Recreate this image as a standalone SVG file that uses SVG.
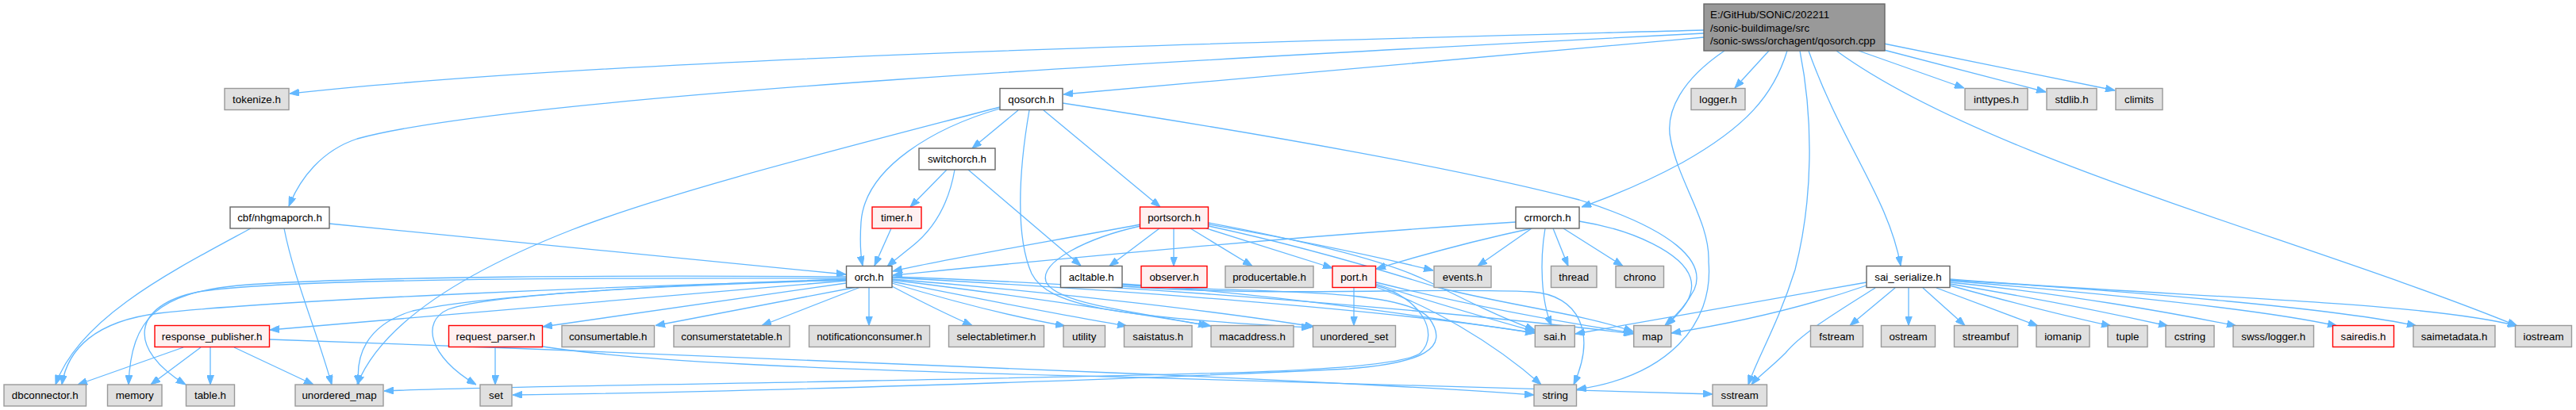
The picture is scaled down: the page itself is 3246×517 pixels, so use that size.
<svg xmlns="http://www.w3.org/2000/svg" width="3246" height="517" viewBox="0 0 3246 517">
<defs>
<style>
.e path{fill:none;stroke:#63b8ff;stroke-width:1.3;marker-end:url(#a)}
.n rect{stroke-width:1.4}
.w rect{fill:#ffffff;stroke:#666666}
.g rect{fill:#e0e0e0;stroke:#999999}
.r rect{fill:#fff0f0;stroke:#ff0000}
.rt rect{fill:#999999;stroke:#666666}
text{font-family:"Liberation Sans",Arial,Helvetica,sans-serif;font-size:13.33px;fill:#000000;text-anchor:middle}
.rt text{text-anchor:start}
</style>
<marker id="a" viewBox="0 0 12 9" refX="12" refY="4.5" markerWidth="12" markerHeight="9" markerUnits="userSpaceOnUse" orient="auto"><path d="M0,0L12,4.5L0,9z" fill="#63b8ff" stroke="#63b8ff" stroke-width="1"/></marker>
</defs>
<rect width="3246" height="517" fill="#ffffff"/>
<g id="edges" class="e">
<path d="M2147,38 C1700,50 800,70 365,118"/>
<path d="M2147,42 C1500,75 650,120 450,175 C405,190 378,225 364,260"/>
<path d="M2147,47 C1850,75 1550,100 1340,119"/>
<path d="M2229,64 L2186,111"/>
<path d="M2342,64 L2475,111"/>
<path d="M2374,63 L2578,116"/>
<path d="M2374,55 L2665,114"/>
<path d="M2252,64 C2235,120 2200,160 2120,205 C2070,232 2030,248 1993,261"/>
<path d="M2279,64 C2320,180 2380,250 2395,335"/>
<path d="M2173,64 C2120,100 2098,140 2105,175 C2115,230 2155,280 2153,330 C2160,410 2100,475 1987,491"/>
<path d="M2268,64 C2285,150 2285,250 2262,340 C2240,410 2215,450 2203,485"/>
<path d="M2314,64 C2500,200 2900,300 3172,411"/>
<path d="M1283,139 L1225,187"/>
<path d="M1260,137 C1180,160 1090,210 1085,280 C1083,310 1085,325 1087,335"/>
<path d="M1260,135 C1050,190 850,240 720,290 C580,345 480,410 450,485"/>
<path d="M1315,139 L1462,261"/>
<path d="M1339,130 C1600,170 1850,215 1990,252 C2110,290 2150,330 2135,365 C2125,385 2110,400 2098,410"/>
<path d="M1297,139 C1283,220 1280,300 1300,345 C1320,385 1400,400 1652,413"/>
<path d="M1193,214 L1147,261"/>
<path d="M1203,214 C1195,260 1175,290 1150,310 C1135,322 1125,330 1118,336"/>
<path d="M1220,214 L1362,335"/>
<path d="M1123,288 L1102,335"/>
<path d="M415,282 C600,300 900,330 1066,346"/>
<path d="M316,288 C220,340 100,400 70,485"/>
<path d="M358,288 C370,350 400,420 418,485"/>
<path d="M1437,283 C1320,305 1200,325 1125,342"/>
<path d="M1461,288 L1398,335.5"/>
<path d="M1479,288 L1479,335.5"/>
<path d="M1500,288 L1578,335.5"/>
<path d="M1520,288 L1679,338"/>
<path d="M1523,283 C1620,300 1720,320 1806,341"/>
<path d="M1437,285 C1370,300 1310,330 1318,355 C1330,385 1450,395 1522,411"/>
<path d="M1523,281 C1650,305 1750,330 1800,355 C1850,380 1890,400 1934,416"/>
<path d="M1523,285 C1640,310 1740,340 1810,362 C1900,385 1990,395 2058,418"/>
<path d="M1706,362.5 L1706,410.5"/>
<path d="M1734,358 C1800,380 1870,400 1934,418"/>
<path d="M1734,356 C1850,385 1960,405 2058,420"/>
<path d="M1734,362 C1800,385 1880,430 1942,485"/>
<path d="M1734,360 C1790,375 1815,420 1790,445 C1760,470 1500,472 1100,480 C800,486 600,488 484,493"/>
<path d="M1414,359 C1550,370 1760,360 1800,400 C1830,440 1790,458 1700,465 C1400,480 900,495 646,498"/>
<path d="M1414,361 C1600,375 1800,362 1930,368 C1990,372 2012,420 1983,485"/>
<path d="M1414,358 C1600,370 1800,400 1934,420"/>
<path d="M1910,280 C1600,300 1300,330 1125,347"/>
<path d="M1930,288 C1850,305 1780,325 1734,339"/>
<path d="M1930,288 L1862,335.5"/>
<path d="M1947,288 C1940,330 1942,380 1955,410.5"/>
<path d="M1957,288 L1976,335.5"/>
<path d="M1970,288 L2045,335.5"/>
<path d="M1990,279 C2060,290 2120,320 2130,350 C2138,375 2115,395 2100,410.5"/>
<path d="M2352,356 C2250,375 2100,400 1985,421"/>
<path d="M2352,360 C2280,385 2200,405 2106,420"/>
<path d="M2363,363 C2320,390 2270,420 2250,445 C2230,465 2215,475 2207,485"/>
<path d="M2388,363 L2331,410.5"/>
<path d="M2405,363 L2405,410.5"/>
<path d="M2423,363 L2476,410.5"/>
<path d="M2440,363 L2568,411"/>
<path d="M2457,360 C2530,380 2600,398 2660,411"/>
<path d="M2457,358 C2560,375 2660,395 2732,411"/>
<path d="M2457,356 C2600,370 2740,395 2818,411"/>
<path d="M2457,354 C2650,370 2850,390 2945,411"/>
<path d="M2457,353 C2700,368 2950,390 3045,411"/>
<path d="M2457,352 C2750,375 3050,380 3172,411"/>
<path d="M1066,349 C800,347 450,348 300,360 C200,370 165,400 162,485"/>
<path d="M1066,351 C700,350 350,352 250,368 C165,385 160,440 234,485"/>
<path d="M1066,353 C800,360 350,378 200,395 C120,405 85,440 78,485"/>
<path d="M1066,354 L340,416"/>
<path d="M1066,352 C800,360 600,375 520,392 C460,410 448,450 452,485"/>
<path d="M1066,353 C850,360 620,370 565,390 C530,405 540,450 600,485"/>
<path d="M1066,357 L684,412"/>
<path d="M1077,362.5 L826,410.5"/>
<path d="M1083,362.5 L960,410.5"/>
<path d="M1095,362.5 L1095,410.5"/>
<path d="M1124,361 C1160,380 1190,395 1225,410.5"/>
<path d="M1124,357 C1200,380 1280,400 1342,411"/>
<path d="M1124,355 C1250,380 1350,400 1420,411"/>
<path d="M1124,353 C1300,375 1430,395 1526,411"/>
<path d="M1124,352 C1350,370 1550,395 1656,412"/>
<path d="M1124,350 C1400,365 1750,390 1934,420"/>
<path d="M1124,349 C1450,360 1850,395 2058,421"/>
<path d="M231,438 L98,485"/>
<path d="M253,438 L190,485"/>
<path d="M265,438 L265,485"/>
<path d="M295,438 L395,485"/>
<path d="M340,428 C700,440 1100,458 1400,470 C1650,480 1850,492 1933,498"/>
<path d="M624,438 L624,485"/>
<path d="M684,437 C800,455 1000,465 1400,475 C1800,485 2050,492 2158,497"/>
</g>
<g id="nodes">
<g id="n_root" class="n rt"><rect x="2147" y="5" width="228" height="59"/><text x="2155" y="23">E:/GitHub/SONiC/202211</text><text x="2155" y="39.5">/sonic-buildimage/src</text><text x="2155" y="56">/sonic-swss/orchagent/qosorch.cpp</text></g>
<g id="n_tokenize" class="n g"><rect x="283" y="111.5" width="81" height="27"/><text x="323.5" y="129.7">tokenize.h</text></g>
<g id="n_qosorch" class="n w"><rect x="1260" y="111.5" width="79" height="27"/><text x="1299.5" y="129.7">qosorch.h</text></g>
<g id="n_logger" class="n g"><rect x="2131" y="111.5" width="68" height="27"/><text x="2165" y="129.7">logger.h</text></g>
<g id="n_inttypes" class="n g"><rect x="2476" y="111.5" width="79" height="27"/><text x="2515.5" y="129.7">inttypes.h</text></g>
<g id="n_stdlib" class="n g"><rect x="2579" y="111.5" width="63" height="27"/><text x="2610.5" y="129.7">stdlib.h</text></g>
<g id="n_climits" class="n g"><rect x="2666" y="111.5" width="59" height="27"/><text x="2695.5" y="129.7">climits</text></g>
<g id="n_switchorch" class="n w"><rect x="1158" y="187" width="96" height="27"/><text x="1206" y="205.2">switchorch.h</text></g>
<g id="n_cbf" class="n w"><rect x="290" y="261" width="125" height="27"/><text x="352.5" y="279.2">cbf/nhgmaporch.h</text></g>
<g id="n_timer" class="n r"><rect x="1099" y="261" width="62" height="27"/><text x="1130" y="279.2">timer.h</text></g>
<g id="n_portsorch" class="n r"><rect x="1436.5" y="261" width="86" height="27"/><text x="1479.5" y="279.2">portsorch.h</text></g>
<g id="n_crmorch" class="n w"><rect x="1910" y="261" width="80" height="27"/><text x="1950" y="279.2">crmorch.h</text></g>
<g id="n_orch" class="n w"><rect x="1066.5" y="335.5" width="57.5" height="27"/><text x="1095.2" y="353.7">orch.h</text></g>
<g id="n_acltable" class="n w"><rect x="1336.5" y="335.5" width="77.5" height="27"/><text x="1375.2" y="353.7">acltable.h</text></g>
<g id="n_observer" class="n r"><rect x="1438" y="335.5" width="83" height="27"/><text x="1479.5" y="353.7">observer.h</text></g>
<g id="n_producertable" class="n g"><rect x="1544" y="335.5" width="111" height="27"/><text x="1599.5" y="353.7">producertable.h</text></g>
<g id="n_port" class="n r"><rect x="1679" y="335.5" width="54.5" height="27"/><text x="1706.2" y="353.7">port.h</text></g>
<g id="n_events" class="n g"><rect x="1807" y="335.5" width="72" height="27"/><text x="1843" y="353.7">events.h</text></g>
<g id="n_thread" class="n g"><rect x="1954.5" y="335.5" width="57.5" height="27"/><text x="1983.2" y="353.7">thread</text></g>
<g id="n_chrono" class="n g"><rect x="2036" y="335.5" width="60.5" height="27"/><text x="2066.2" y="353.7">chrono</text></g>
<g id="n_sai_serialize" class="n w"><rect x="2352" y="335.5" width="105" height="27"/><text x="2404.5" y="353.7">sai_serialize.h</text></g>
<g id="n_response_publisher" class="n r"><rect x="195" y="410.5" width="144.5" height="27"/><text x="267.2" y="428.7">response_publisher.h</text></g>
<g id="n_request_parser" class="n r"><rect x="565.5" y="410.5" width="118" height="27"/><text x="624.5" y="428.7">request_parser.h</text></g>
<g id="n_consumertable" class="n g"><rect x="708" y="410.5" width="116.5" height="27"/><text x="766.2" y="428.7">consumertable.h</text></g>
<g id="n_consumerstatetable" class="n g"><rect x="849" y="410.5" width="146" height="27"/><text x="922" y="428.7">consumerstatetable.h</text></g>
<g id="n_notificationconsumer" class="n g"><rect x="1019.5" y="410.5" width="152" height="27"/><text x="1095.5" y="428.7">notificationconsumer.h</text></g>
<g id="n_selectabletimer" class="n g"><rect x="1195.5" y="410.5" width="120" height="27"/><text x="1255.5" y="428.7">selectabletimer.h</text></g>
<g id="n_utility" class="n g"><rect x="1340" y="410.5" width="52.5" height="27"/><text x="1366.2" y="428.7">utility</text></g>
<g id="n_saistatus" class="n g"><rect x="1416.5" y="410.5" width="85.5" height="27"/><text x="1459.2" y="428.7">saistatus.h</text></g>
<g id="n_macaddress" class="n g"><rect x="1526" y="410.5" width="104" height="27"/><text x="1578" y="428.7">macaddress.h</text></g>
<g id="n_unordered_set" class="n g"><rect x="1654.5" y="410.5" width="104" height="27"/><text x="1706.5" y="428.7">unordered_set</text></g>
<g id="n_sai" class="n g"><rect x="1934.3" y="410.5" width="50" height="27"/><text x="1959.3" y="428.7">sai.h</text></g>
<g id="n_map" class="n g"><rect x="2058.7" y="410.5" width="47" height="27"/><text x="2082.2" y="428.7">map</text></g>
<g id="n_fstream" class="n g"><rect x="2281.5" y="410.5" width="66" height="27"/><text x="2314.5" y="428.7">fstream</text></g>
<g id="n_ostream" class="n g"><rect x="2370.5" y="410.5" width="68" height="27"/><text x="2404.5" y="428.7">ostream</text></g>
<g id="n_streambuf" class="n g"><rect x="2462.5" y="410.5" width="80" height="27"/><text x="2502.5" y="428.7">streambuf</text></g>
<g id="n_iomanip" class="n g"><rect x="2566" y="410.5" width="67" height="27"/><text x="2599.5" y="428.7">iomanip</text></g>
<g id="n_tuple" class="n g"><rect x="2656" y="410.5" width="50" height="27"/><text x="2681" y="428.7">tuple</text></g>
<g id="n_cstring" class="n g"><rect x="2729" y="410.5" width="61" height="27"/><text x="2759.5" y="428.7">cstring</text></g>
<g id="n_swss_logger" class="n g"><rect x="2814" y="410.5" width="101.5" height="27"/><text x="2864.7" y="428.7">swss/logger.h</text></g>
<g id="n_sairedis" class="n r"><rect x="2939.5" y="410.5" width="77" height="27"/><text x="2978" y="428.7">sairedis.h</text></g>
<g id="n_saimetadata" class="n g"><rect x="3041" y="410.5" width="103" height="27"/><text x="3092.5" y="428.7">saimetadata.h</text></g>
<g id="n_iostream" class="n g"><rect x="3169.5" y="410.5" width="71" height="27"/><text x="3205" y="428.7">iostream</text></g>
<g id="n_dbconnector" class="n g"><rect x="5" y="485" width="103.5" height="27"/><text x="56.7" y="503.2">dbconnector.h</text></g>
<g id="n_memory" class="n g"><rect x="135.5" y="485" width="68.5" height="27"/><text x="169.7" y="503.2">memory</text></g>
<g id="n_table" class="n g"><rect x="234.5" y="485" width="61" height="27"/><text x="265" y="503.2">table.h</text></g>
<g id="n_unordered_map" class="n g"><rect x="372" y="485" width="111" height="27"/><text x="427.5" y="503.2">unordered_map</text></g>
<g id="n_set" class="n g"><rect x="605" y="485" width="40" height="27"/><text x="625" y="503.2">set</text></g>
<g id="n_string" class="n g"><rect x="1933" y="485" width="53.5" height="27"/><text x="1959.7" y="503.2">string</text></g>
<g id="n_sstream" class="n g"><rect x="2158" y="485" width="68.5" height="27"/><text x="2192.2" y="503.2">sstream</text></g>
</g>
</svg>
